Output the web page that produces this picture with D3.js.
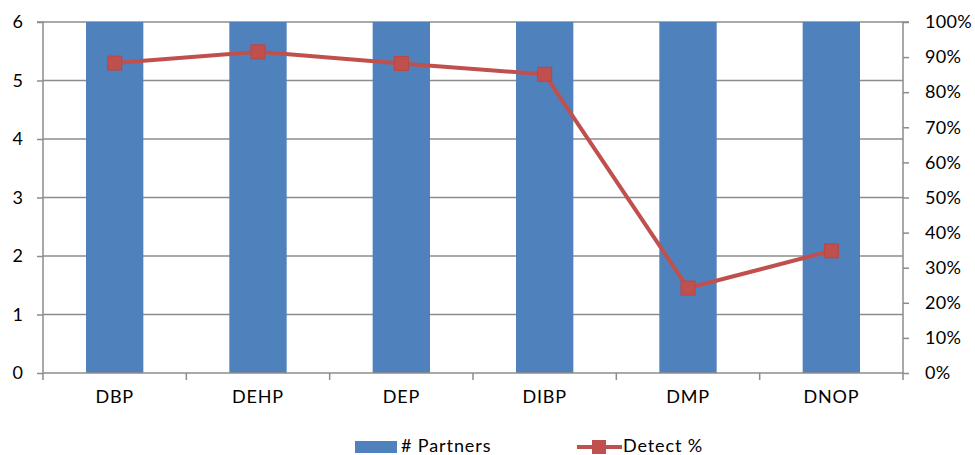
<!DOCTYPE html>
<html><head><meta charset="utf-8">
<script src="https://cdn.jsdelivr.net/npm/d3@7"></script>
<style>body{margin:0;background:#fff}svg{display:block}text{font-family:Lato,"Open Sans",sans-serif;fill:#000}</style>
</head><body><svg id="c" width="975" height="455"></svg>
<script>
const categories = ["DBP","DEHP","DEP","DIBP","DMP","DNOP"];
const partners = [6,6,6,6,6,6];
const detectPct = [88.3,91.5,88.2,85.1,24.2,34.8];
const leftTicks = [0,1,2,3,4,5,6];
const rightTicks = [0,10,20,30,40,50,60,70,80,90,100];

const svg = d3.select("#c");
const L=43, R=903, T=22, B=373;
const xb = d3.scaleBand().domain(categories).range([L,R]);
const y = d3.scaleLinear().domain([0,6]).range([B,T]);
const y2 = d3.scaleLinear().domain([0,100]).range([B,T]);
const grid="#8c8c8c";
const fs=18;

// gridlines
svg.append("g").selectAll("line").data(leftTicks.filter(d=>d>0)).join("line")
 .attr("x1",L).attr("x2",R).attr("y1",d=>y(d)).attr("y2",d=>y(d))
 .attr("stroke",grid).attr("stroke-width",1.5);

// bars
svg.append("g").selectAll("rect").data(categories).join("rect")
 .attr("x",d=>xb(d)+xb.bandwidth()/2-xb.bandwidth()*0.2).attr("width",xb.bandwidth()*0.4)
 .attr("y",(d,i)=>y(partners[i])).attr("height",(d,i)=>B-y(partners[i]))
 .attr("fill","#4F81BD");

// left axis
const la = svg.append("g").attr("transform",`translate(${L},0)`)
 .call(d3.axisLeft(y).tickValues(leftTicks).tickSize(6).tickPadding(14).tickFormat(d3.format("d")));
la.select(".domain").attr("stroke",grid).attr("stroke-width",1.5).attr("d",`M-6,${T}H0V${B+7}`);
la.selectAll(".tick line").attr("stroke",grid).attr("stroke-width",1.5);
la.selectAll(".tick text").attr("font-size",fs).attr("font-family","Lato,sans-serif").attr("fill","#000");

// right axis
const ra = svg.append("g").attr("transform",`translate(${R},0)`)
 .call(d3.axisRight(y2).tickValues(rightTicks).tickSize(6).tickPadding(16).tickFormat(d=>d+"%"));
ra.select(".domain").attr("stroke",grid).attr("stroke-width",1.5).attr("d",`M6,${T}H0V${B+7}`);
ra.selectAll(".tick line").attr("stroke",grid).attr("stroke-width",1.5);
ra.selectAll(".tick text").attr("font-size",fs).attr("font-family","Lato,sans-serif").attr("fill","#000").attr("letter-spacing",0.3);

// x axis
const xa = svg.append("g").attr("transform",`translate(0,${B})`)
 .call(d3.axisBottom(xb).tickSize(0).tickPadding(17));
xa.select(".domain").attr("stroke",grid).attr("stroke-width",1.5).attr("d",`M${L},0H${R}`);
xa.selectAll(".tick text").attr("font-size",fs).attr("font-family","Lato,sans-serif").attr("fill","#000").attr("letter-spacing",0.8);
svg.append("g").selectAll("line").data(categories.slice(1)).join("line")
 .attr("x1",d=>xb(d)).attr("x2",d=>xb(d)).attr("y1",B).attr("y2",B+7)
 .attr("stroke",grid).attr("stroke-width",1.5);

// line
const lineColor="#C0504D";
const cx = d=>xb(d)+xb.bandwidth()/2;
svg.append("path").datum(categories)
 .attr("d",d3.line().x(d=>cx(d)).y((d,i)=>y2(detectPct[i])))
 .attr("fill","none").attr("stroke",lineColor).attr("stroke-width",4).attr("stroke-linejoin","round");
svg.append("g").selectAll("rect").data(categories).join("rect")
 .attr("x",d=>cx(d)-7).attr("y",(d,i)=>y2(detectPct[i])-7).attr("width",14).attr("height",14)
 .attr("fill",lineColor).attr("stroke","#b94744").attr("stroke-width",1);

// legend
const lg = svg.append("g");
lg.append("rect").attr("x",355).attr("y",441).attr("width",42).attr("height",12).attr("fill","#4F81BD");
lg.append("text").attr("x",401).attr("y",452).attr("font-size",fs).attr("letter-spacing",0.9).text("# Partners");
lg.append("line").attr("x1",577).attr("x2",622).attr("y1",447).attr("y2",447).attr("stroke",lineColor).attr("stroke-width",4);
lg.append("rect").attr("x",592).attr("y",440).attr("width",14).attr("height",14).attr("fill",lineColor);
lg.append("text").attr("x",623).attr("y",452).attr("font-size",fs).attr("letter-spacing",0.9).text("Detect %");
</script></body></html>
